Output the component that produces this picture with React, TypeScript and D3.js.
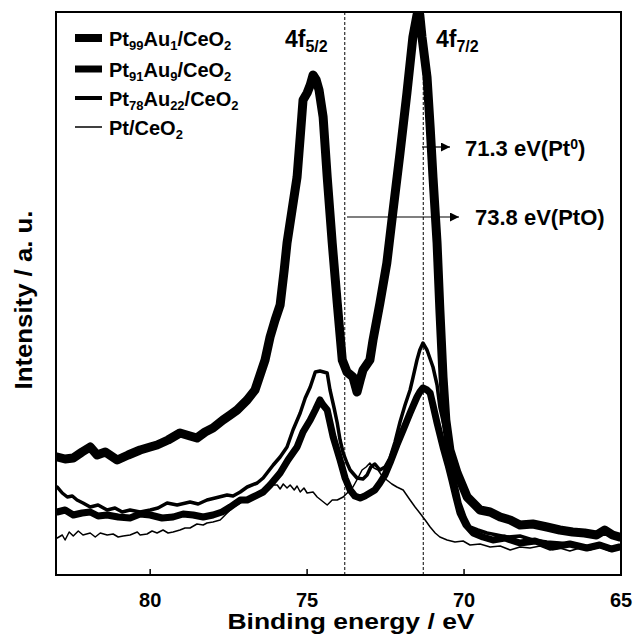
import React from "react";
import * as d3 from "d3";

// Binding energy (eV) / intensity (a.u.) pairs
const pt99au1: [number, number][] = [
  [82.96,118],[82.71,116],[82.45,117],[82.17,123],[81.91,128],[81.69,120],[81.43,123],[81.05,115],
  [80.7,120],[80.32,125],[80.0,128],[79.78,130],[79.43,135],[79.05,142],[78.73,139],[78.51,137],
  [78.25,143],[78.0,147],[77.68,155],[77.45,160],[77.23,165],[76.91,175],[76.66,185],[76.5,200],
  [76.34,215],[76.18,238],[76.02,255],[75.86,270],[75.73,305],[75.64,332],[75.48,365],[75.32,398],
  [75.22,438],[75.13,475],[75.0,482],[74.9,490],[74.81,500],[74.71,495],[74.62,485],[74.49,458],
  [74.36,398],[74.2,332],[74.04,272],[73.88,215],[73.73,203],[73.54,198],[73.41,183],[73.31,195],
  [73.22,205],[73.0,215],[72.9,235],[72.68,272],[72.46,312],[72.26,365],[72.04,422],[71.82,482],
  [71.63,538],[71.5,560],[71.41,560],[71.34,538],[71.18,498],[71.08,448],[70.99,398],[70.86,332],
  [70.77,265],[70.67,198],[70.58,155],[70.45,125],[70.22,102],[69.9,78],[69.49,65],[69.17,63],
  [68.85,58],[68.53,55],[68.22,50],[67.81,51],[67.36,48],[66.95,45],[66.54,43],[66.16,42],
  [65.78,40],[65.52,45],[65.27,40],[65.05,38]
];

const pt91au9: [number, number][] = [
  [82.96,63],[82.71,65],[82.45,60],[82.17,62],[81.91,63],[81.66,59],[81.37,60],[81.02,58],
  [80.64,57],[80.32,61],[80.0,60],[79.62,57],[79.27,58],[78.95,61],[78.63,60],[78.31,58],
  [78.0,60],[77.71,63],[77.45,68],[77.13,75],[76.91,75],[76.72,78],[76.4,83],[76.18,90],
  [75.86,102],[75.61,115],[75.32,128],[75.13,143],[74.9,155],[74.74,165],[74.59,175],[74.49,170],
  [74.36,165],[74.17,138],[73.95,115],[73.79,97],[73.63,85],[73.48,79],[73.31,77],[73.16,79],
  [73.0,82],[72.84,85],[72.68,92],[72.52,100],[72.36,112],[72.14,130],[71.94,145],[71.72,162],
  [71.5,178],[71.41,183],[71.31,187],[71.18,185],[71.08,182],[70.99,170],[70.86,152],[70.67,128],
  [70.51,110],[70.39,95],[70.26,78],[70.13,62],[69.94,50],[69.71,42],[69.4,38],[69.08,35],
  [68.7,37],[68.22,32],[67.74,34],[67.17,28],[66.63,31],[66.09,27],[65.68,30],[65.3,26],[65.05,28]
];

const pt78au22: [number, number][] = [
  [82.96,88],[82.8,82],[82.64,78],[82.48,79],[82.33,75],[82.14,72],[81.91,68],[81.66,70],
  [81.37,65],[81.12,67],[80.89,63],[80.64,65],[80.32,63],[80.0,65],[79.75,67],[79.46,72],
  [79.14,70],[78.73,73],[78.47,71],[78.19,75],[77.93,77],[77.55,80],[77.36,79],[77.13,83],
  [76.91,88],[76.59,92],[76.4,97],[76.08,110],[75.86,118],[75.64,128],[75.45,145],[75.22,162],
  [75.06,177],[74.9,188],[74.74,203],[74.59,204],[74.36,202],[74.27,185],[74.14,167],[74.04,152],
  [73.95,135],[73.85,122],[73.73,112],[73.63,105],[73.41,97],[73.22,96],[73.09,100],[72.97,108],
  [72.84,111],[72.68,105],[72.52,108],[72.36,117],[72.2,133],[72.04,153],[71.88,170],[71.72,185],
  [71.63,197],[71.5,215],[71.41,225],[71.31,232],[71.18,225],[70.99,208],[70.86,190],[70.77,168],
  [70.64,150],[70.54,135],[70.45,120],[70.35,102],[70.22,85],[70.13,72],[69.97,58],[69.81,48],
  [69.56,45],[69.27,42],[68.95,40],[68.64,38],[68.22,39],[67.81,35],[67.36,33],[66.95,32],
  [66.54,30],[66.09,28],[65.68,29],[65.36,26],[65.05,27]
];

const ptceo2: [number, number][] = [
  [82.96,37],[82.8,40],[82.71,35],[82.58,43],[82.45,39],[82.29,44],[82.14,40],[81.91,42],
  [81.75,38],[81.59,42],[81.37,40],[81.18,41],[81.02,38],[80.86,39],[80.64,40],[80.41,43],
  [80.32,40],[80.1,41],[79.94,44],[79.78,42],[79.59,45],[79.43,42],[79.27,43],[79.05,45],
  [78.89,47],[78.73,47],[78.51,51],[78.31,50],[78.19,52],[78.0,53],[77.77,55],[77.61,60],
  [77.45,65],[77.29,69],[77.13,72],[76.91,76],[76.72,78],[76.56,80],[76.4,83],[76.27,85],
  [76.11,90],[75.95,90],[75.86,86],[75.76,91],[75.64,87],[75.54,90],[75.41,85],[75.32,89],
  [75.22,83],[75.1,87],[75.0,82],[74.81,83],[74.68,78],[74.52,74],[74.36,70],[74.2,75],
  [74.04,75],[73.85,78],[73.69,83],[73.54,88],[73.38,97],[73.25,105],[73.12,108],[73.0,112],
  [72.87,107],[72.74,105],[72.59,98],[72.46,95],[72.3,91],[72.14,88],[71.94,85],[71.72,75],
  [71.56,68],[71.41,62],[71.24,55],[71.08,48],[70.92,42],[70.77,38],[70.54,35],[70.29,33],
  [70.03,34],[69.81,30],[69.49,31],[69.17,28],[68.85,29],[68.53,25],[68.22,28],[67.9,27],
  [67.58,29],[67.26,25],[66.95,27],[66.63,24],[66.31,27],[65.99,25],[65.68,28],[65.36,24],[65.05,26]
];

const xTicks = [80, 75, 70, 65];
const refLines = [73.8, 71.3];

type Series = { name: string; main: [string, string][]; data: [number, number][] };
// label parts: [text, kind] kind: "n" normal, "s" subscript
const seriesList: Series[] = [
  { name: "Pt99Au1", main: [["Pt","n"],["99","s"],["Au","n"],["1","s"],["/CeO","n"],["2","s"]], data: pt99au1 },
  { name: "Pt91Au9", main: [["Pt","n"],["91","s"],["Au","n"],["9","s"],["/CeO","n"],["2","s"]], data: pt91au9 },
  { name: "Pt78Au22", main: [["Pt","n"],["78","s"],["Au","n"],["22","s"],["/CeO","n"],["2","s"]], data: pt78au22 },
  { name: "Pt", main: [["Pt/CeO","n"],["2","s"]], data: ptceo2 },
];
const widths = [9, 7, 3.5, 1.5];
const legendWidths = [8, 7, 4, 1.5];

const W = 634, H = 637;
const L = 56, R = 621, T = 12, B = 575;
const FONT = "Arial, 'Liberation Sans', Helvetica, sans-serif";

function Rich({ parts, x, y, size, sub, shift }: { parts: [string, string][]; x: number; y: number; size: number; sub: number; shift: number }) {
  let cur = 0;
  return (
    <text x={x} y={y} fontFamily={FONT} fontWeight="bold" fontSize={size} fill="#000">
      {parts.map(([t, k], i) => {
        const target = k === "s" ? shift : k === "p" ? -shift * 1.8 : 0;
        const dy = target - cur;
        cur = target;
        return (
          <tspan key={i} dy={dy} fontSize={k === "n" ? size : sub}>{t}</tspan>
        );
      })}
    </text>
  );
}

export default function App() {
  const x = d3.scaleLinear().domain([83, 65]).range([L, R]);
  const y = d3.scaleLinear().domain([0, 563]).range([B, T]);
  const line = d3.line<[number, number]>().x(d => x(d[0])).y(d => y(d[1])).curve(d3.curveLinear);

  const legendY = [38, 69, 98, 127];

  return (
    <svg width={W} height={H} style={{ position: "absolute", left: 0, top: 0, background: "#fff" }}>
      <defs>
        <clipPath id="plot"><rect x={L} y={T} width={R - L} height={B - T} /></clipPath>
        <marker id="arr" viewBox="0 0 10 10" refX="10" refY="5" markerWidth="10" markerHeight="9" markerUnits="userSpaceOnUse" orient="auto">
          <path d="M0,0 L10,5 L0,10 Z" fill="#000" />
        </marker>
      </defs>
      <rect x={0} y={0} width={W} height={H} fill="#fff" />
      {/* reference dashed lines */}
      {refLines.map(v => (
        <line key={v} x1={x(v)} x2={x(v)} y1={T} y2={B} stroke="#000" strokeWidth={1} strokeDasharray="3,2" />
      ))}
      {/* curves */}
      <g clipPath="url(#plot)">
        {seriesList.map((s, i) => (
          <path key={s.name} d={line(s.data) || ""} fill="none" stroke="#000" strokeWidth={widths[i]} strokeLinejoin="round" strokeLinecap="round" />
        ))}
      </g>
      {/* frame */}
      <rect x={L} y={T} width={R - L} height={B - T} fill="none" stroke="#000" strokeWidth={2} />
      {/* x ticks */}
      {xTicks.map(t => (
        <g key={t}>
          <line x1={x(t)} x2={x(t)} y1={B} y2={B - 6} stroke="#000" strokeWidth={1.5} />
          <text x={x(t)} y={607} textAnchor="middle" fontFamily={FONT} fontWeight="bold" fontSize={20}>{t}</text>
        </g>
      ))}
      <text x={351} y={629} textAnchor="middle" fontFamily={FONT} fontWeight="bold" fontSize={22} textLength={247} lengthAdjust="spacingAndGlyphs">Binding energy / eV</text>
      <text transform={`translate(32,300) rotate(-90)`} textAnchor="middle" fontFamily={FONT} fontWeight="bold" fontSize={24} textLength={179} lengthAdjust="spacingAndGlyphs">Intensity / a. u.</text>
      {/* legend */}
      {seriesList.map((s, i) => (
        <g key={s.name}>
          <line x1={75} x2={102} y1={legendY[i]} y2={legendY[i]} stroke="#000" strokeWidth={legendWidths[i]} />
          <Rich parts={s.main} x={109} y={legendY[i] + 8} size={20} sub={13} shift={4} />
        </g>
      ))}
      {/* peak labels */}
      <Rich parts={[["4f","n"],["5/2","s"]]} x={285} y={47} size={23} sub={16} shift={5} />
      <Rich parts={[["4f","n"],["7/2","s"]]} x={436} y={47} size={23} sub={16} shift={5} />
      {/* annotations */}
      <line x1={422} y1={147} x2={450} y2={147} stroke="#000" strokeWidth={1.2} markerEnd="url(#arr)" />
      <Rich parts={[["71.3 eV(Pt","n"],["0","p"],[")","n"]]} x={465} y={156} size={22} sub={14} shift={4} />
      <line x1={347} y1={217} x2={459} y2={217} stroke="#000" strokeWidth={1.2} markerEnd="url(#arr)" />
      <Rich parts={[["73.8 eV(PtO)","n"]]} x={475} y={225} size={22} sub={14} shift={4} />
    </svg>
  );
}
